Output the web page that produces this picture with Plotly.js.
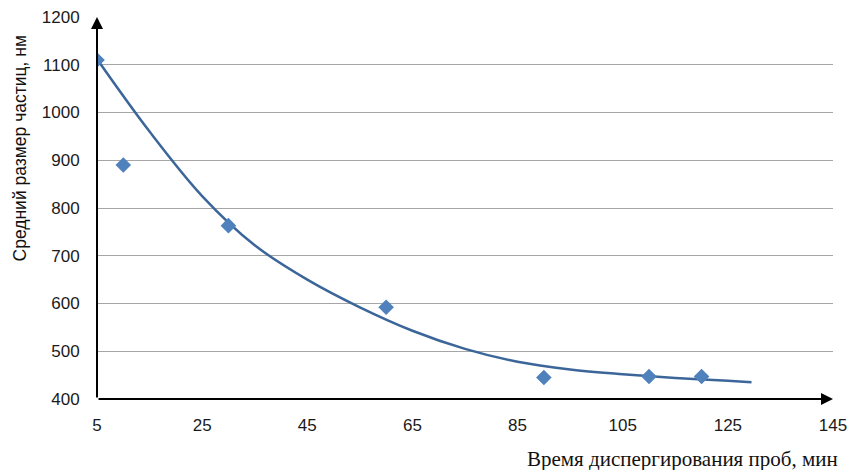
<!DOCTYPE html>
<html>
<head>
<meta charset="utf-8">
<script src="https://cdn.plot.ly/plotly-3.0.1.min.js"></script>
<style>html,body{margin:0;padding:0;background:#fff;}#chart{width:851px;height:470px;}</style>
</head>
<body>
<div id="chart"></div>
<script>
// Measured points
var timeMin = [5, 10, 30, 60, 90, 110, 120];
var particleSize = [1110, 890, 763, 592, 445, 447, 447];

// Trend line
var trendX = [5, 15, 25, 35, 45, 55, 65, 75, 85, 95, 105, 115, 125, 129.5];
var trendY = [1112, 960, 825, 722, 650, 592, 543, 505, 478, 462, 452, 444, 438, 435];

var xTicks = [5, 25, 45, 65, 85, 105, 125, 145];
var yTicks = [400, 500, 600, 700, 800, 900, 1000, 1100, 1200];

var traces = [
  {
    x: trendX, y: trendY, type: 'scatter', mode: 'lines',
    line: {color: '#3C6699', width: 2.5, shape: 'spline', smoothing: 1.0},
    hoverinfo: 'skip', showlegend: false
  },
  {
    x: timeMin, y: particleSize, type: 'scatter', mode: 'markers',
    marker: {symbol: 'diamond', size: 12, color: '#4F81BD'},
    showlegend: false
  }
];

var layout = {
  width: 851, height: 470,
  margin: {l: 97, r: 18, t: 17, b: 71},
  paper_bgcolor: '#ffffff', plot_bgcolor: '#ffffff',
  showlegend: false,
  xaxis: {
    range: [5, 145], tickvals: xTicks, ticktext: xTicks.map(String),
    showgrid: false, zeroline: false, showline: false,
    ticks: 'outside', ticklen: 11, tickcolor: 'rgba(0,0,0,0)',
    tickfont: {family: 'Liberation Sans, Arial, sans-serif', size: 17, color: '#1a1a1a'}
  },
  yaxis: {
    range: [400, 1200], tickvals: yTicks, ticktext: yTicks.map(String),
    showgrid: true, gridcolor: '#A6A6A6', gridwidth: 1,
    zeroline: false, showline: false,
    ticks: 'outside', ticklen: 13, tickcolor: 'rgba(0,0,0,0)',
    tickfont: {family: 'Liberation Sans, Arial, sans-serif', size: 17, color: '#1a1a1a'}
  },
  annotations: [
    {
      x: 5, y: 1200, xref: 'x', yref: 'y',
      ax: 5, ay: 400, axref: 'x', ayref: 'y',
      text: '', showarrow: true, arrowhead: 2, arrowsize: 1.2, arrowwidth: 2, arrowcolor: '#000'
    },
    {
      x: 145, y: 400, xref: 'x', yref: 'y',
      ax: 5, ay: 400, axref: 'x', ayref: 'y',
      text: '', showarrow: true, arrowhead: 2, arrowsize: 1.2, arrowwidth: 2, arrowcolor: '#000'
    },
    {
      text: 'Средний размер частиц, нм',
      xref: 'paper', yref: 'paper', x: -0.104, y: 0.657,
      xanchor: 'center', yanchor: 'middle', textangle: -90, showarrow: false,
      font: {family: 'Liberation Sans, Arial, sans-serif', size: 17.5, color: '#111'}
    },
    {
      text: 'Время диспергирования проб, мин',
      xref: 'paper', yref: 'paper', x: 1.01, y: -0.157,
      xanchor: 'right', yanchor: 'middle', showarrow: false,
      font: {family: 'Liberation Serif, Times New Roman, serif', size: 21, color: '#111'}
    }
  ]
};

Plotly.newPlot('chart', traces, layout, {displayModeBar: false, staticPlot: true});
</script>
</body>
</html>
